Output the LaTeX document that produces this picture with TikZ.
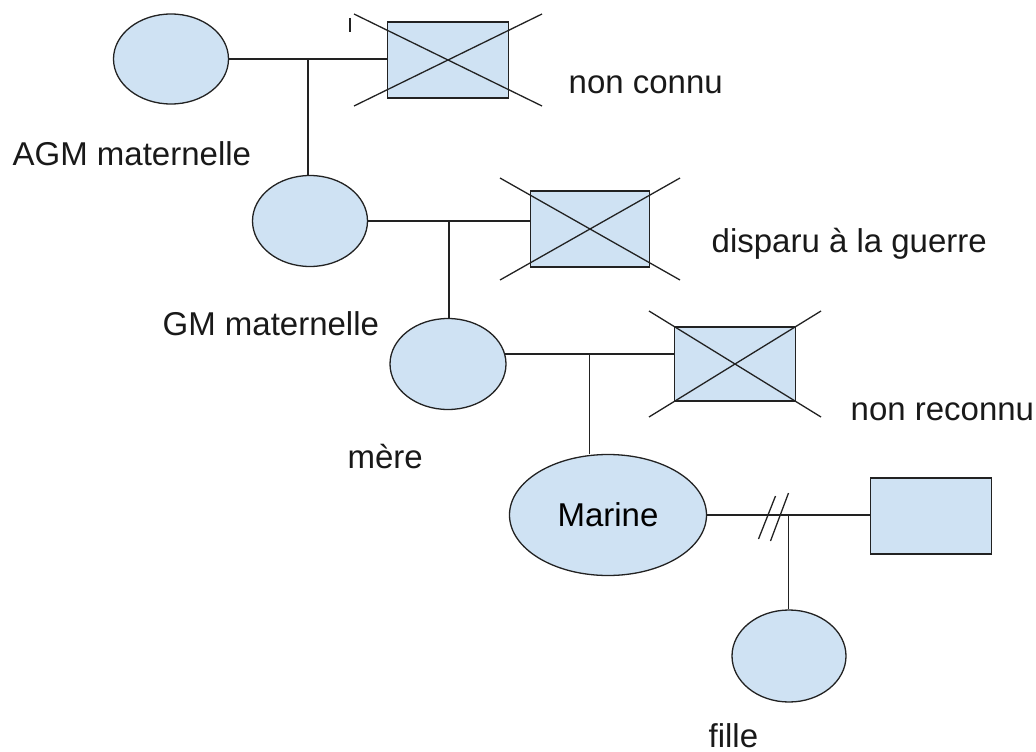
\documentclass[tikz,border=0pt]{standalone}
\usepackage{fontspec}
\setmainfont{Liberation Sans}
\usepackage{xcolor}
\usetikzlibrary{shapes.geometric,calc}
\definecolor{bleu}{HTML}{CFE2F3}
\definecolor{trait}{HTML}{222222}

% Cross drawn over a box: node name, half width, half height
\newcommand{\barre}[3]{%
  \draw[trait] (#1.center) ++(-#2,-#3) -- ++(2*#2,2*#3);
  \draw[trait] (#1.center) ++(-#2,#3) -- ++(2*#2,-2*#3);
}

\begin{document}
\begin{tikzpicture}[x=1pt, y=-1pt, line width=1.3pt,
    font=\fontsize{33}{40}\selectfont,
    femme/.style={ellipse, draw=trait, fill=bleu, inner sep=0pt},
    homme/.style={rectangle, draw=trait, fill=bleu, inner sep=0pt,
                  minimum width=121pt, minimum height=76pt},
    legende/.style={anchor=base west, inner sep=0pt, text=black!90},
    lien/.style={draw=trait}]

    % Page size
    \useasboundingbox (0,0) rectangle (1036,752);

    % Women (ellipses)
    \node[femme, minimum width=115, minimum height=90] (agm) at (171,59) {};
    \node[femme, minimum width=115, minimum height=91] (gm) at (310,221) {};
    \node[femme, minimum width=116, minimum height=91] (mere) at (448,364) {};
    \node[femme, minimum width=197, minimum height=121] (marine) at (608,515) {Marine};
    \node[femme, minimum width=114, minimum height=92] (fille) at (789,656) {};

    % Men (boxes)
    \node[homme] (agmh) at (448,60) {};
    \node[homme, minimum width=119] (gmh) at (590,229) {};
    \node[homme, minimum height=74] (mereh) at (735,364) {};
    \node[homme] (marineh) at (931,516) {};

    % Crosses over the unknown fathers
    \barre{agmh}{94}{46}
    \barre{gmh}{90}{51}
    \barre{mereh}{86}{53}
    \draw[trait] ($(agmh.center)+(-98,-42)$) -- ++(0,14);

    % Couples
    \coordinate (p1) at (agm.east -| agmh.west);
    \coordinate (p2) at (gm.east -| gmh.west);
    \coordinate (p3) at (mere.10 -| mereh.west);
    \coordinate (p4) at (marine.east -| marineh.west);
    \draw[lien] (agm.east) -- (p1);
    \draw[lien] (gm.east) -- (p2);
    \draw[lien] (mere.10) -- (p3);
    \draw[lien] (marine.east) -- (p4);

    % Children
    \coordinate (c1) at ($(agm.east)!0.5!(p1)$);
    \coordinate (c2) at ($(gm.east)!0.5!(p2)$);
    \coordinate (c3) at ($(mere.10)!0.5!(p3)$);
    \coordinate (c4) at ($(marine.east)!0.5!(p4)$);
    \draw[lien] (c1) -- (c1 |- gm.north);
    \draw[lien] (c2) -- (c2 |- mere.north);
    \draw[lien] (c3) -- (c3 |- marine.north);
    \draw[lien] (c4) -- (c4 |- fille.north);

    % Separation
    \draw[lien] ($(c4)+(-30,24)$) -- ++(17,-43);
    \draw[lien] ($(c4)+(-18,26)$) -- ++(18,-48);

    % Labels
    \node[legende] (tagm) at (12,165) {AGM maternelle};
    \node[legende] (tagmh) at (568,93) {non connu};
    \node[legende] (tgm) at (162,335) {GM maternelle};
    \node[legende] (tgmh) at (711,252) {disparu à la guerre};
    \node[legende] (tmere) at (347,468) {mère};
    \node[legende] (tmereh) at (850,420) {non reconnu};
    \node[legende] (tfille) at (708,747) {fille};

\end{tikzpicture}
\end{document}
